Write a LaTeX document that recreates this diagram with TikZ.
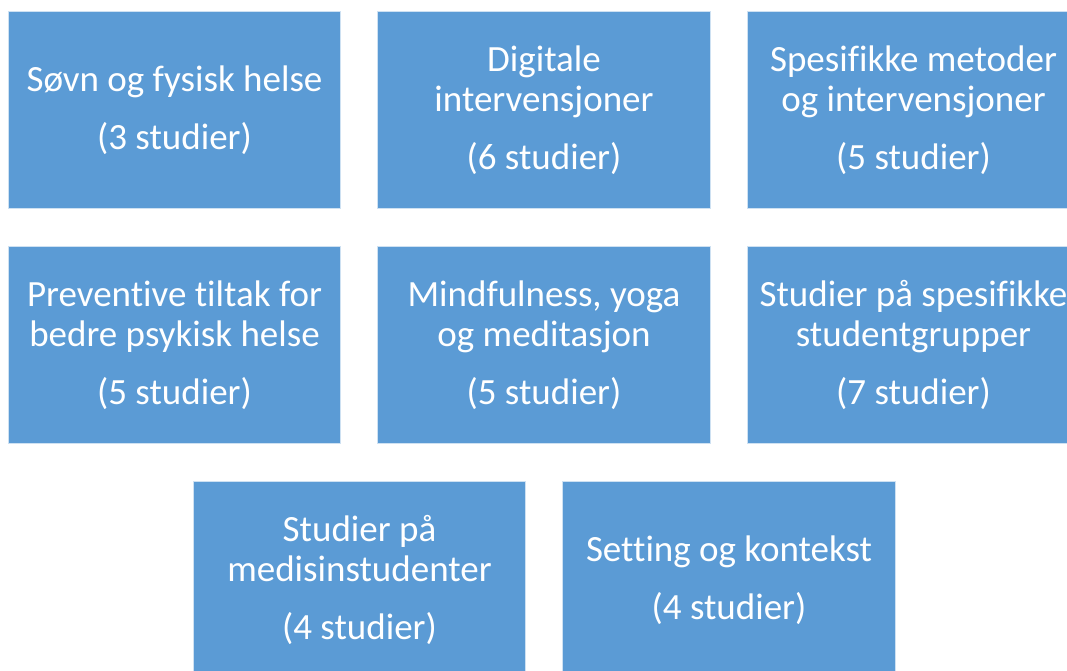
\documentclass[tikz,border=0pt]{standalone}
\usepackage{fontspec}
\setmainfont{Carlito}[Ligatures=NoCommon]
\usetikzlibrary{positioning}

\definecolor{boxblue}{HTML}{5B9BD5}

\tikzset{
  topic/.style = {rectangle, fill=boxblue, draw=white!70!boxblue, line width=0.6pt,
                  minimum width=332.5pt, minimum height=197.5pt, inner sep=0pt, outer sep=0pt,
                  text=white, align=center, font=\fontsize{37}{40}\selectfont},
}

\begin{document}
\begin{tikzpicture} [x=1pt, y=1pt, node distance = 37.5pt and 37pt]
        \clip (0,0) rectangle (1067,-670);
        \useasboundingbox (0,0) rectangle (1067,-670);

        % first row
        \node (sovn) [topic] at (174.5,-110) {Søvn og fysisk helse\\[18pt](3 studier)};
        \node (digi) [topic, right = of sovn] {Digitale\\intervensjoner\\[18pt](6 studier)};
        \node (meto) [topic, right = of digi] {Spesifikke metoder\\og intervensjoner\\[18pt](5 studier)};

        % second row
        \node (prev) [topic, below = of sovn] {Preventive tiltak for\\bedre psykisk helse\\[18pt](5 studier)};
        \node (mind) [topic, right = of prev] {Mindfulness, yoga\\og meditasjon\\[18pt](5 studier)};
        \node (grup) [topic, right = of mind] {Studier på spesifikke\\studentgrupper\\[18pt](7 studier)};

        % third row
        \node (medi) [topic, below = of prev, xshift=185pt] {Studier på\\medisinstudenter\\[18pt](4 studier)};
        \node (sett) [topic, right = of medi] {Setting og kontekst\\[18pt](4 studier)};
    \end{tikzpicture}
\end{document}
